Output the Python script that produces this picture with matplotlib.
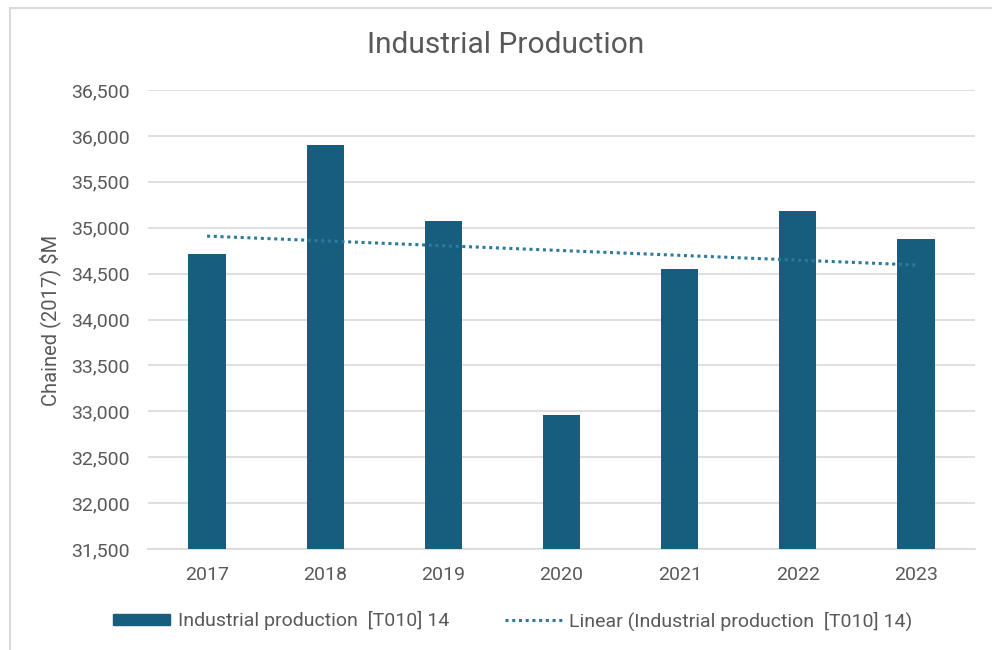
import numpy as np
import matplotlib.pyplot as plt
from matplotlib.patches import Rectangle
from matplotlib.lines import Line2D
from matplotlib.ticker import FuncFormatter

# Data
years = ['2017', '2018', '2019', '2020', '2021', '2022', '2023']
production = [34713, 35899, 35076, 32964, 34547, 35180, 34880]

bar_color = '#175e7e'
trend_color = '#2b7a9b'
text_color = '#595959'
dots = (0, (1, 1.2))

plt.rcParams['font.family'] = ['Roboto', 'DejaVu Sans']

fig = plt.figure(figsize=(9.92, 6.5), dpi=100)
ax = fig.add_axes([148 / 992, 1 - 549 / 650, 827 / 992, 459 / 650])

x = np.arange(len(years))
ax.bar(x, production, width=0.315, color=bar_color, zorder=3)

# Linear trendline (least squares fit, like Excel)
slope, intercept = np.polyfit(x, production, 1)
ax.plot(x, slope * x + intercept, linestyle=dots, color=trend_color,
        linewidth=2.2, zorder=4)

ax.set_xlim(-0.5, len(years) - 0.5)
ax.set_ylim(31500, 36500)
ax.set_yticks(np.arange(31500, 36501, 500))
ax.yaxis.set_major_formatter(FuncFormatter(lambda v, p: f'{int(v):,}'))
ax.set_xticks(x)
ax.set_xticklabels(years)
ax.grid(axis='y', color='#d9d9d9', linewidth=1.2, zorder=0)
for s in ['top', 'right', 'left']:
    ax.spines[s].set_visible(False)
ax.spines['bottom'].set_color('#d9d9d9')
ax.spines['bottom'].set_linewidth(1.2)
ax.tick_params(axis='both', length=0, labelsize=14, colors=text_color)
ax.tick_params(axis='y', pad=13)
ax.tick_params(axis='x', pad=12)

fig.text(50 / 992, 1 - 320 / 650, 'Chained (2017) $M', rotation=90,
         ha='center', va='center', fontsize=14.5, color=text_color)
fig.text(506 / 992, 1 - 45 / 650, 'Industrial Production', ha='center',
         va='center', fontsize=21.5, color=text_color)

# Legend
handles = [Rectangle((0, 0), 1, 1, color=bar_color),
           Line2D([0], [0], linestyle=dots, color=trend_color, linewidth=2.2)]
labels = ['Industrial production  [T010] 14',
          'Linear (Industrial production  [T010] 14)']
fig.legend(handles, labels, ncol=2, loc='center', bbox_to_anchor=(513 / 992, 1 - 621 / 650),
           frameon=False, fontsize=14, labelcolor=text_color, handlelength=2.9,
           handleheight=0.45, columnspacing=2.9, handletextpad=0.4)

# chart border
fig.patches.append(Rectangle((10 / 992, -0.1), 1.2, 1 - 8 / 650 + 0.1, transform=fig.transFigure,
                             fill=False, edgecolor='#d9d9d9', linewidth=1.5))

fig.savefig('out.png', dpi=100)
